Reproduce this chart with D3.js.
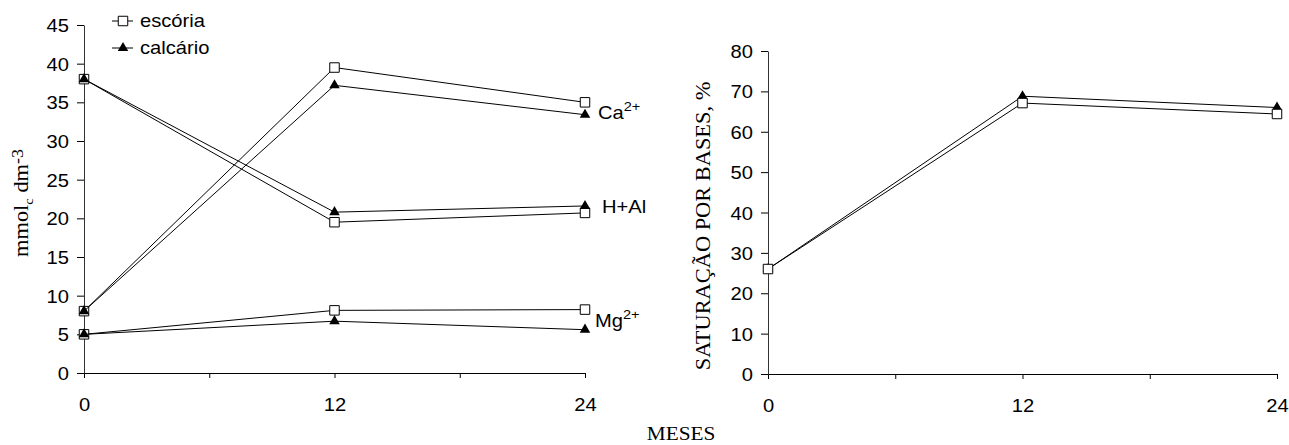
<!DOCTYPE html>
<html>
<head>
<meta charset="utf-8">
<script src="https://cdn.jsdelivr.net/npm/d3@7"></script>
<style>
  body { margin: 0; background: #fff; }
  svg { display: block; }
</style>
</head>
<body>
<div class="chart"></div>
<script>
// Data
const months = [0, 12, 24];
const xTicks = [0, 6, 12, 18, 24];
const xTickLabels = [0, 12, 24];

const caEscoria = [8, 39.5, 35];
const caCalcario = [8, 37.2, 33.4];
const hAlEscoria = [38, 19.5, 20.7];
const hAlCalcario = [38, 20.8, 21.6];
const mgEscoria = [5, 8.1, 8.2];
const mgCalcario = [5, 6.7, 5.6];

const satEscoria = [26, 67.1, 64.4];
const satCalcario = [26, 68.8, 66];

const leftTicks = [0, 5, 10, 15, 20, 25, 30, 35, 40, 45];
const rightTicks = [0, 10, 20, 30, 40, 50, 60, 70, 80];

const width = 1289, height = 445;
const SX = 1.12; // text in the original is a bit wide
const sans = "'Liberation Sans', Arial, sans-serif";
const serif = "'Liberation Serif', 'Times New Roman', serif";

const svg = d3.select(".chart").append("svg")
  .attr("width", width)
  .attr("height", height);

// Scales
const xLeft = d3.scaleLinear().domain([0, 24]).range([84, 585]);
const yLeft = d3.scaleLinear().domain([0, 45]).range([373, 25]);
const xRight = d3.scaleLinear().domain([0, 24]).range([768, 1277]);
const yRight = d3.scaleLinear().domain([0, 80]).range([374, 51]);

// widen a text element horizontally around its anchor
function widen(sel, x, y, rot) {
  sel.attr("x", null).attr("y", null)
    .attr("transform", `translate(${x},${y})` + (rot ? ` rotate(${rot})` : "") + ` scale(${SX},1)`);
}

function drawAxes(x, y, yTicks) {
  const xAxis = svg.append("g")
    .attr("transform", `translate(0,${y.range()[0]})`)
    .call(d3.axisBottom(x).tickValues(xTicks).tickSize(5).tickSizeOuter(0)
      .tickFormat(d => xTickLabels.includes(d) ? d : ""));
  xAxis.select(".domain").attr("stroke", "#000");
  xAxis.selectAll("text")
    .style("font-family", sans).style("font-size", "18px").attr("fill", "#000")
    .each(function () { widen(d3.select(this).attr("dy", null), 0, 38); });

  const yAxis = svg.append("g")
    .attr("transform", `translate(${x.range()[0]},0)`)
    .call(d3.axisLeft(y).tickValues(yTicks).tickSize(7).tickSizeOuter(0));
  yAxis.select(".domain").attr("stroke", "#333");
  yAxis.selectAll("text")
    .style("font-family", sans).style("font-size", "18px").attr("fill", "#000")
    .each(function () { widen(d3.select(this).attr("dy", null), -15, 6.5); });
}

drawAxes(xLeft, yLeft, leftTicks);
drawAxes(xRight, yRight, rightTicks);

const square = d3.symbol().type(d3.symbolSquare).size(90);
const triangle = d3.symbol().type(d3.symbolTriangle).size(48);

function drawSeries(x, y, values, kind) {
  const pts = months.map((m, i) => [m, values[i]]);
  svg.append("path")
    .datum(pts)
    .attr("fill", "none")
    .attr("stroke", "#000")
    .attr("stroke-width", 1)
    .attr("d", d3.line().x(d => x(d[0])).y(d => y(d[1])));
  svg.append("g").selectAll("path")
    .data(pts)
    .join("path")
    .attr("transform", d => `translate(${x(d[0])},${y(d[1])})`)
    .attr("d", kind === "sq" ? square : triangle)
    .attr("fill", kind === "sq" ? "#fff" : "#000")
    .attr("stroke", "#000")
    .attr("stroke-width", kind === "sq" ? 1 : 0);
}

// Left panel
drawSeries(xLeft, yLeft, caEscoria, "sq");
drawSeries(xLeft, yLeft, hAlEscoria, "sq");
drawSeries(xLeft, yLeft, mgEscoria, "sq");
drawSeries(xLeft, yLeft, caCalcario, "tri");
drawSeries(xLeft, yLeft, hAlCalcario, "tri");
drawSeries(xLeft, yLeft, mgCalcario, "tri");

// Right panel
drawSeries(xRight, yRight, satCalcario, "tri");
drawSeries(xRight, yRight, satEscoria, "sq");

// Series labels
function ionLabel(x, y, base, sup) {
  const t = svg.append("text")
    .style("font-family", sans).style("font-size", "18px").attr("fill", "#000");
  t.append("tspan").text(base);
  if (sup) t.append("tspan").attr("dy", -8).style("font-size", "13px").text(sup);
  widen(t, x, y);
}
ionLabel(598, 119, "Ca", "2+");
ionLabel(602, 213, "H+Al");
ionLabel(595, 327, "Mg", "2+");

// Legend
const legend = svg.append("g").attr("transform", "translate(112,0)");
const legendItems = [
  { label: "escória", kind: "sq", y: 21 },
  { label: "calcário", kind: "tri", y: 48 }
];
legendItems.forEach(item => {
  legend.append("line")
    .attr("x1", 0).attr("x2", 21).attr("y1", item.y).attr("y2", item.y)
    .attr("stroke", "#000");
  legend.append("path")
    .attr("transform", `translate(11,${item.y})`)
    .attr("d", item.kind === "sq" ? square : triangle)
    .attr("fill", item.kind === "sq" ? "#fff" : "#000")
    .attr("stroke", "#000")
    .attr("stroke-width", item.kind === "sq" ? 1 : 0);
  const t = legend.append("text")
    .style("font-family", sans).style("font-size", "18px").attr("fill", "#000")
    .text(item.label);
  widen(t, 28, item.y + 6);
});

// Axis titles
const yTitleLeft = svg.append("text")
  .attr("text-anchor", "middle")
  .style("font-family", serif).style("font-size", "20px").attr("fill", "#000");
yTitleLeft.append("tspan").text("mmol");
yTitleLeft.append("tspan").attr("dy", 5).style("font-size", "13px").text("c");
yTitleLeft.append("tspan").attr("dy", -5).text(" dm");
yTitleLeft.append("tspan").attr("dy", -5).style("font-size", "16px").text("-3");
widen(yTitleLeft, 28, 203, -90);

const yTitleRight = svg.append("text")
  .attr("text-anchor", "middle")
  .style("font-family", serif).style("font-size", "20px").attr("fill", "#000")
  .text("SATURAÇÃO POR BASES, %");
widen(yTitleRight, 710, 226, -90);

const xTitle = svg.append("text")
  .attr("text-anchor", "middle")
  .style("font-family", serif).style("font-size", "19px").attr("fill", "#000")
  .text("MESES");
widen(xTitle, 681, 440);
</script>
</body>
</html>
